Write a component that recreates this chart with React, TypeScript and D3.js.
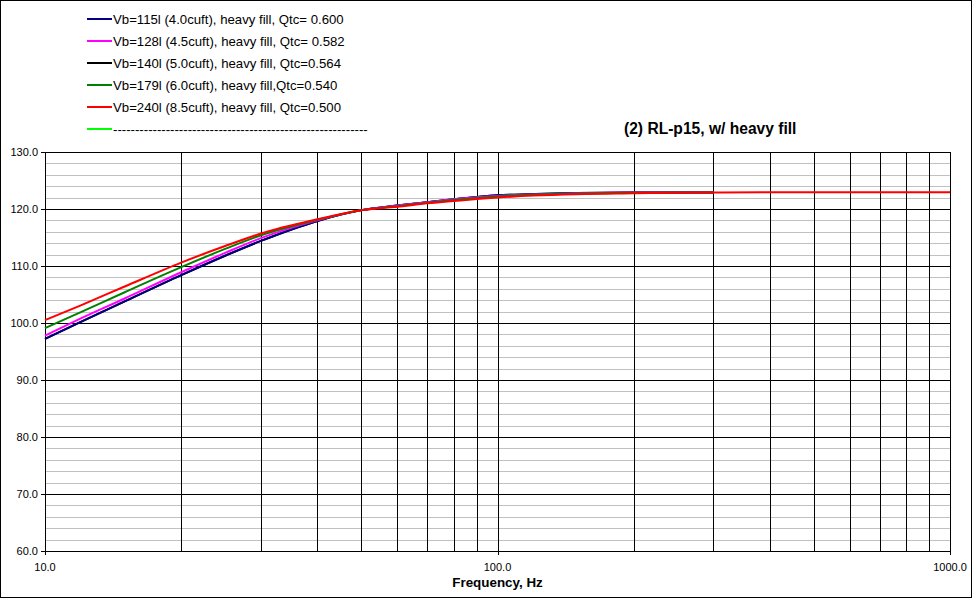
import React, { useEffect, useRef } from 'react'
import * as d3 from 'd3'

// frequencies (Hz) for the box responses
const freqs = [10, 12, 15, 20, 25, 30, 40, 50, 60, 70, 80, 90, 100, 120, 150, 200, 250, 300];
const freqsLong = [10, 12, 15, 20, 25, 30, 40, 50, 60, 70, 80, 90, 100, 120, 150, 200, 250, 300, 400, 500, 700, 1000];

// SPL (dB) per box volume
const vb115 = [97.2, 100.2, 103.8, 108.4, 111.8, 114.4, 117.9, 119.8, 120.6, 121.2, 121.7, 122.1, 122.4, 122.6, 122.8, 122.9, 122.9, 122.9];
const vb128 = [97.8, 100.8, 104.3, 108.9, 112.3, 114.9, 118.0, 119.8, 120.6, 121.2, 121.7, 122.05, 122.3, 122.55, 122.75, 122.9, 122.9, 122.9];
const vb140 = [97.2, 100.2, 103.8, 108.4, 111.8, 114.4, 117.9, 119.8, 120.6, 121.2, 121.7, 122.1, 122.4, 122.6, 122.8, 122.9, 122.9, 122.9];
const vb179 = [99.1, 101.9, 105.4, 109.8, 113.0, 115.4, 118.1, 119.8, 120.5, 121.1, 121.6, 121.95, 122.2, 122.5, 122.7, 122.85, 122.9, 122.9];
const vb240 = [100.5, 103.1, 106.4, 110.6, 113.5, 115.7, 118.2, 119.8, 120.4, 121.0, 121.4, 121.75, 122.0, 122.35, 122.6, 122.75, 122.85, 122.9, 122.95, 122.95, 122.95, 122.95];

const legendLabels = [
  'Vb=115l (4.0cuft), heavy fill, Qtc= 0.600',
  'Vb=128l (4.5cuft), heavy fill, Qtc= 0.582',
  'Vb=140l (5.0cuft), heavy fill, Qtc=0.564',
  'Vb=179l (6.0cuft), heavy fill,Qtc=0.540',
  'Vb=240l (8.5cuft), heavy fill, Qtc=0.500',
  '----------------------------------------------------------',
];
const legendColors = ['#000080', '#ff00ff', '#000000', '#008000', '#ff0000', '#00ff00'];

const xTicks = [10, 100, 1000];
const xGrid = [20, 30, 40, 50, 60, 70, 80, 90, 200, 300, 400, 500, 600, 700, 800, 900];
const yTicks = [60, 70, 80, 90, 100, 110, 120, 130];

const W = 973;
const H = 599;

export default function App() {
  const svgRef = useRef<SVGSVGElement>(null);

  useEffect(() => {
    if (!svgRef.current) return;
    const svg = d3.select(svgRef.current);
    svg.selectAll('*').remove();

    const font = 'Liberation Sans, Arial, sans-serif';
    const left = 45, right = 950, top = 152, bottom = 551;

    const x = d3.scaleLog().domain([10, 1000]).range([left, right]);
    const y = d3.scaleLinear().domain([60, 130]).range([bottom, top]);

    svg.append('rect')
      .attr('x', 0).attr('y', 0).attr('width', W).attr('height', H)
      .attr('fill', 'white');

    // outer frame
    svg.append('rect')
      .attr('x', 0.5).attr('y', 0.5).attr('width', 971).attr('height', 597)
      .attr('fill', 'none').attr('stroke', 'black').attr('stroke-width', 1);

    const g = svg.append('g');

    // minor horizontal grid every 2 dB
    g.selectAll('.minor')
      .data(d3.range(62, 130, 2).filter(v => v % 10 !== 0))
      .enter().append('line')
      .attr('x1', left).attr('x2', right)
      .attr('y1', d => Math.round(y(d)) + 0.5).attr('y2', d => Math.round(y(d)) + 0.5)
      .attr('stroke', '#c0c0c0').attr('stroke-width', 1);

    // major horizontal grid
    g.selectAll('.major')
      .data(yTicks)
      .enter().append('line')
      .attr('x1', left - 4).attr('x2', right)
      .attr('y1', d => Math.round(y(d)) + 0.5).attr('y2', d => Math.round(y(d)) + 0.5)
      .attr('stroke', 'black').attr('stroke-width', 1);

    // vertical grid
    g.selectAll('.vgrid')
      .data([...xTicks, ...xGrid])
      .enter().append('line')
      .attr('x1', d => Math.round(x(d)) + 0.5).attr('x2', d => Math.round(x(d)) + 0.5)
      .attr('y1', top).attr('y2', d => xTicks.includes(d) ? bottom + 4 : bottom)
      .attr('stroke', 'black').attr('stroke-width', 1);

    // y labels
    g.selectAll('.ylab')
      .data(yTicks)
      .enter().append('text')
      .attr('x', 38).attr('y', d => y(d) + 4)
      .attr('text-anchor', 'end')
      .attr('font-family', font).attr('font-size', '11px')
      .text(d => d.toFixed(1));

    // x labels
    g.selectAll('.xlab')
      .data(xTicks)
      .enter().append('text')
      .attr('x', d => x(d)).attr('y', 571)
      .attr('text-anchor', 'middle')
      .attr('font-family', font).attr('font-size', '11px')
      .text(d => d.toFixed(1));

    svg.append('text')
      .attr('x', x(100)).attr('y', 587)
      .attr('text-anchor', 'middle')
      .attr('font-family', font).attr('font-size', '13.4px').attr('font-weight', 'bold')
      .text('Frequency, Hz');

    svg.append('text')
      .attr('x', 624).attr('y', 134)
      .attr('font-family', font).attr('font-size', '15.6px').attr('font-weight', 'bold')
      .text('(2) RL-p15, w/ heavy fill');

    // curves (black drawn first, hidden under the others)
    const series = [
      { f: freqs, v: vb140, c: legendColors[2] },
      { f: freqs, v: vb115, c: legendColors[0] },
      { f: freqs, v: vb128, c: legendColors[1] },
      { f: freqs, v: vb179, c: legendColors[3] },
      { f: freqsLong, v: vb240, c: legendColors[4] },
    ];

    const line = d3.line<[number, number]>()
      .x(d => x(d[0]))
      .y(d => y(d[1]))
      .curve(d3.curveMonotoneX);

    series.forEach(s => {
      g.append('path')
        .datum(s.f.map((f, i) => [f, s.v[i]] as [number, number]))
        .attr('d', line)
        .attr('fill', 'none')
        .attr('stroke', s.c)
        .attr('stroke-width', 2);
    });

    // legend
    const legend = svg.append('g');
    legendLabels.forEach((label, i) => {
      const ly = 19 + i * 22;
      legend.append('line')
        .attr('x1', 87).attr('x2', 112)
        .attr('y1', ly).attr('y2', ly)
        .attr('stroke', legendColors[i]).attr('stroke-width', 2);
      legend.append('text')
        .attr('x', 113).attr('y', ly + 4.5)
        .attr('font-family', font).attr('font-size', '13.2px')
        .text(label);
    });
  }, []);

  return (
    <svg
      ref={svgRef}
      width={W}
      height={H}
      style={{ position: 'absolute', left: 0, top: 0 }}
    />
  );
}
